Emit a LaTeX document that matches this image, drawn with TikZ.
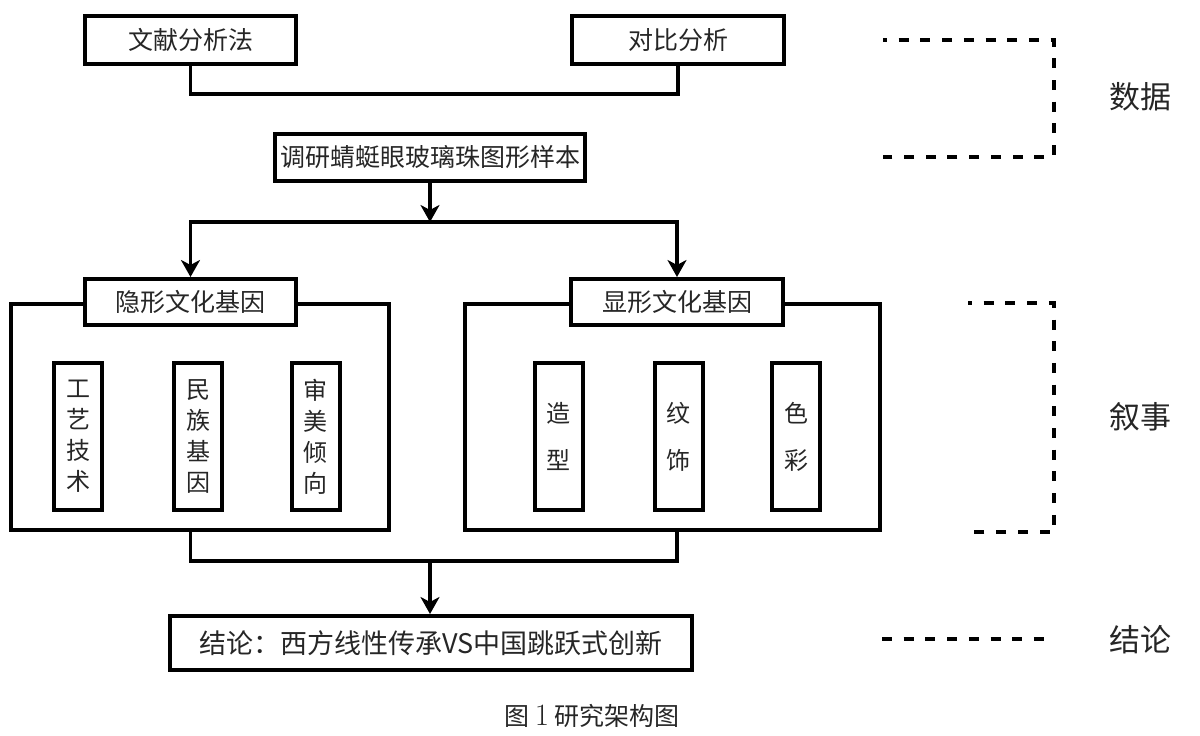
\documentclass[tikz,border=0pt]{standalone}
\usepackage{fontspec}
\newfontfamily\cjk{Noto Sans CJK SC}
\usetikzlibrary{arrows.meta}

\begin{document}
\begin{tikzpicture}[x=1pt, y=-1pt,
    box/.style={draw, line width=4pt, fill=white, inner sep=0pt, text=black!85,
                font=\cjk\fontsize{25}{30}\selectfont},
    vbox/.style={box, minimum width=48pt, minimum height=147pt, align=center,
                 font=\cjk\fontsize{24}{31}\selectfont},
    vboxwide/.style={vbox, font=\cjk\fontsize{24}{47}\selectfont},
    link/.style={line width=3.3pt},
    arr/.style={link, -{Stealth[length=17pt, width=19pt, inset=5pt]}},
    brace/.style={line width=4pt, dash pattern=on 10pt off 11.7pt, dash phase=6pt},
    side/.style={font=\cjk\fontsize{31}{36}\selectfont, text=black!85}]
  \useasboundingbox (0,0) rectangle (1200,736);

  % methods
  \node[box, minimum width=211pt, minimum height=48pt] (lit) at (190.5,40) {文献分析法};
  \node[box, minimum width=212pt, minimum height=48pt] (cmp) at (678,40) {对比分析};
  \node[box, minimum width=310pt, minimum height=47pt] (smp) at (430,157.5) {调研蜻蜓眼玻璃珠图形样本};

  % two gene groups
  \node[box, minimum width=378pt, minimum height=226pt] (hidbox) at (200,417) {};
  \node[box, minimum width=415pt, minimum height=226pt] (visbox) at (672.5,417) {};
  \node[box, minimum width=211pt, minimum height=46pt] (hidtitle) at (190.5,302) {隐形文化基因};
  \node[box, minimum width=212pt, minimum height=46pt] (vistitle) at (677,302) {显形文化基因};

  \node[vbox] (hid1) at (78,436.5) {工\\艺\\技\\术};
  \node[vbox] (hid2) at (198,436.5) {民\\族\\基\\因};
  \node[vbox] (hid3) at (315.5,436.5) {审\\美\\倾\\向};
  \node[vboxwide] (vis1) at (558.5,436.5) {造\\型};
  \node[vboxwide] (vis2) at (678.5,436.5) {纹\\饰};
  \node[vboxwide] (vis3) at (796,436.5) {色\\彩};

  \node[box, minimum width=522pt, minimum height=54pt,
        font=\cjk\fontsize{27}{32}\selectfont] (con) at (431,643) {结论：西方线性传承VS中国跳跃式创新};

  % connectors
  \coordinate (topjoin) at (430,94);
  \coordinate (split) at (430,222);
  \coordinate (merge) at (430,561);
  \draw[link] (lit.south) |- (topjoin) -| (cmp.south);
  \draw[arr] (smp.south) -- (split);
  \draw[arr] (split) -| (hidtitle.north);
  \draw[arr] (split) -| (vistitle.north);
  \draw[link] (hidtitle |- hidbox.south) |- (merge) -| (vistitle |- visbox.south);
  \draw[arr] (merge) -- (merge |- con.north);

  % dashed brackets on the right
  \draw[brace] (883,40) -- (1054,40) -- (1054,157) -- (883,157);
  \draw[brace] (968,303) -- (1054,303) -- (1054,532) -- (968,532);
  \draw[brace, dash phase=0pt] (882,639) -- (1044,639);
  \node[side] (lbldata) at (1140,97) {数据};
  \node[side] (lblstory) at (1140,417) {叙事};
  \node[side] (lblend) at (1140,640) {结论};

  \node[font=\cjk\fontsize{25}{28}\selectfont, text=black!85] (cap) at (592,716)
    {图 {\rmfamily\fontsize{31}{31}\selectfont 1} 研究架构图};
\end{tikzpicture}
\end{document}
